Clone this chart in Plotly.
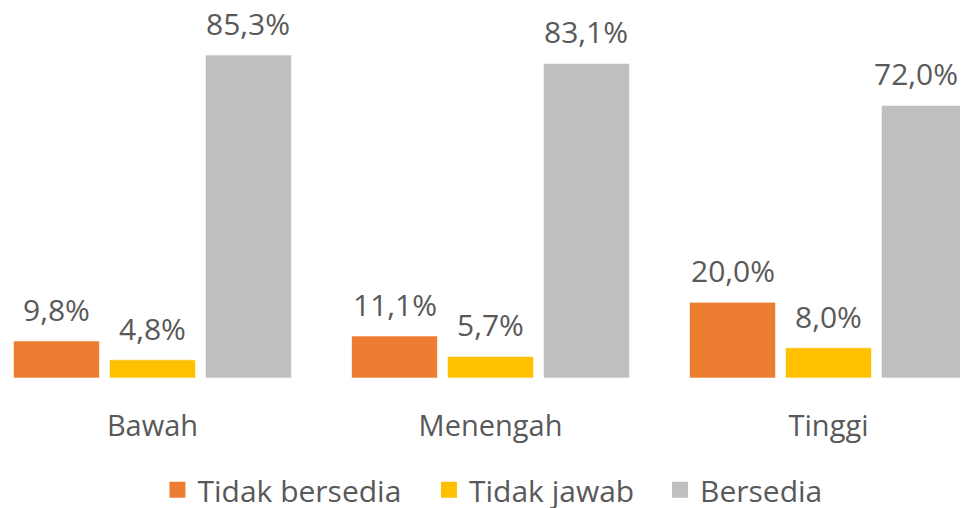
import plotly.graph_objects as go

categories = ["Bawah", "Menengah", "Tinggi"]
tidak_bersedia = [9.8, 11.1, 20.0]
tidak_jawab = [4.8, 5.7, 8.0]
bersedia = [85.3, 83.1, 72.0]

series = [
    ("Tidak bersedia", tidak_bersedia, "#ED7D31"),
    ("Tidak jawab", tidak_jawab, "#FFC000"),
    ("Bersedia", bersedia, "#BFBFBF"),
]
legend_x = [0.1557, 0.4385, 0.6792]
# small horizontal nudge (px) so the label at the right edge stays visible
label_nudge = {("Bersedia", "Tinggi"): -9}

FONT = "Open Sans, Noto Sans, sans-serif"
TXT = "#595959"
FS_TICK = 29
FS_LBL = 30

CAT_PX = 338          # pixel width of one category
BARGAP = 0.148
GROUPGAP = 0.104
SLOT = CAT_PX * (1 - BARGAP) / len(series)

fig = go.Figure()
legends = {}
for i, (name, vals, col) in enumerate(series):
    lg = "legend" if i == 0 else f"legend{i + 1}"
    fig.add_trace(go.Bar(
        name=name, x=categories, y=vals, showlegend=False,
        marker=dict(color=col, line=dict(color="rgba(255,255,255,0.6)", width=1)),
    ))
    # legend proxy
    fig.add_trace(go.Scatter(
        name=name, x=[None], y=[None], mode="markers", legend=lg,
        marker=dict(symbol="square", size=17, color=col),
    ))
    legends[lg] = dict(orientation="h", x=legend_x[i], xanchor="left", y=-0.304,
                       yanchor="middle", itemwidth=30, bgcolor="rgba(0,0,0,0)",
                       font=dict(size=FS_LBL, color=TXT, family=FONT))
    for c, v in zip(categories, vals):
        fig.add_annotation(
            x=c, y=v, xref="x", yref="y", showarrow=False,
            text=f"{v:.1f}%".replace(".", ","),
            xshift=(i - (len(series) - 1) / 2) * SLOT + label_nudge.get((name, c), 0),
            yanchor="bottom", yshift=9,
            font=dict(size=FS_LBL, color=TXT, family=FONT),
        )

fig.update_layout(
    width=960, height=508,
    margin=dict(l=0, r=0, t=2, b=138),
    barmode="group", bargap=BARGAP, bargroupgap=GROUPGAP,
    plot_bgcolor="white", paper_bgcolor="white",
    font=dict(family=FONT, color=TXT, size=FS_TICK),
    xaxis=dict(range=[-0.4275, 2.4127], showline=False, showgrid=False, ticks="",
               tickfont=dict(size=FS_TICK, color=TXT, family=FONT), ticklabelstandoff=28),
    yaxis=dict(range=[0, 97.2], visible=False),
    **legends,
)

fig.write_html("out.html")
